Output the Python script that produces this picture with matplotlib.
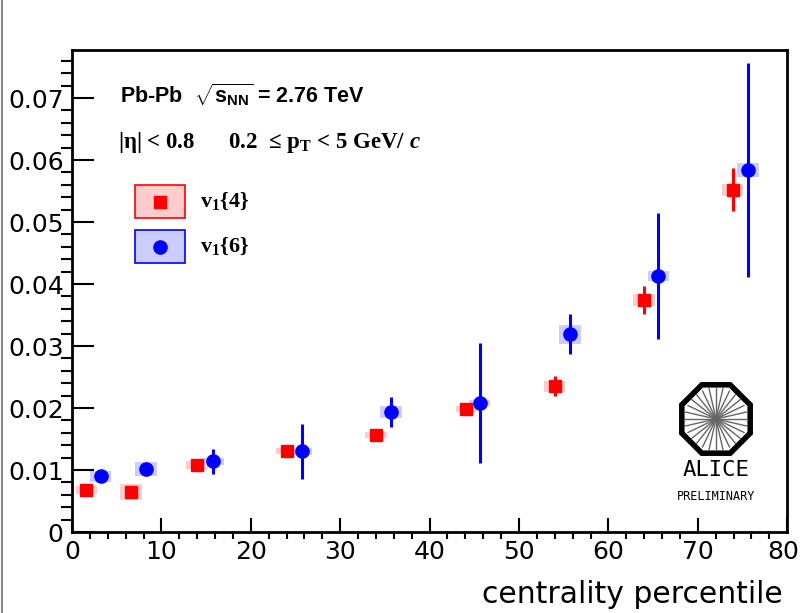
import matplotlib
matplotlib.use("Agg")
import matplotlib.pyplot as plt
import matplotlib.transforms as mtransforms
from matplotlib.patches import Rectangle, RegularPolygon
from matplotlib.lines import Line2D
import numpy as np

plt.rcParams['mathtext.fontset'] = 'custom'
plt.rcParams['mathtext.rm'] = 'Liberation Serif:bold'
plt.rcParams['mathtext.it'] = 'Liberation Serif:italic:bold'
plt.rcParams['mathtext.bf'] = 'Liberation Sans:bold'

# v{4}  (red squares)
red_x = [1.6, 6.6, 14.0, 24.0, 34.0, 44.1, 54.0, 64.0, 73.9]
red_y = [0.0068, 0.0065, 0.0108, 0.0131, 0.0156, 0.0198, 0.0235, 0.0374, 0.0552]
red_err = [0.0003, 0.0003, 0.0004, 0.0004, 0.0004, 0.0005, 0.0016, 0.0023, 0.0035]
red_sys = [0.0006, 0.0013, 0.0006, 0.0005, 0.0005, 0.0005, 0.0009, 0.0010, 0.0010]

# v{6}  (blue circles)
blue_x = [3.2, 8.3, 15.8, 25.7, 35.7, 45.6, 55.7, 65.6, 75.6]
blue_y = [0.0090, 0.0102, 0.0114, 0.0130, 0.0194, 0.0208, 0.0319, 0.0413, 0.0584]
blue_err = [0.0004, 0.0007, 0.0020, 0.0045, 0.0024, 0.0097, 0.0032, 0.0101, 0.0172]
blue_sys = [0.0009, 0.0011, 0.0006, 0.0005, 0.0010, 0.0005, 0.0015, 0.0008, 0.0011]

x_ticks = [0, 10, 20, 30, 40, 50, 60, 70, 80]
y_ticks = [0, 0.01, 0.02, 0.03, 0.04, 0.05, 0.06, 0.07]
y_tick_labels = ['0', '0.01', '0.02', '0.03', '0.04', '0.05', '0.06', '0.07']

RED = '#ff0000'
BLUE = '#0000ff'
RED_BOX = '#ffcccc'
BLUE_BOX = '#ccccff'

fig = plt.figure(figsize=(8, 6.13), dpi=100)
ax = fig.add_axes([0.09, 0.132, 0.894, 0.786])

# systematic boxes
ax.bar(red_x, 2 * np.array(red_sys), bottom=np.array(red_y) - np.array(red_sys),
       width=2.4, color=RED_BOX, linewidth=0, zorder=1)
ax.bar(blue_x, 2 * np.array(blue_sys), bottom=np.array(blue_y) - np.array(blue_sys),
       width=2.4, color=BLUE_BOX, linewidth=0, zorder=1)

# points with stat errors
ax.errorbar(red_x, red_y, yerr=red_err, fmt='s', color=RED, ms=8.5,
            elinewidth=2.2, capsize=0, zorder=3)
ax.errorbar(blue_x, blue_y, yerr=blue_err, fmt='o', color=BLUE, ms=9.5,
            elinewidth=2.2, capsize=0, zorder=4)

ax.set_xlim(0, 80)
ax.set_ylim(0, 0.0777)
ax.set_xticks(x_ticks)
ax.set_xticks(np.arange(0, 81, 2), minor=True)
ax.set_yticks(y_ticks)
ax.set_yticklabels(y_tick_labels)
ax.set_yticks(np.arange(0, 0.0777, 0.002), minor=True)

ax.tick_params(axis='both', direction='in', width=1.5, labelsize=18,
               top=False, right=False)
ax.tick_params(axis='x', which='major', length=10, pad=6)
ax.tick_params(axis='x', which='minor', length=5, width=1.5)
ax.tick_params(axis='y', which='major', length=16, pad=6)
ax.tick_params(axis='y', which='minor', length=8, width=1.5)
for s in ax.spines.values():
    s.set_linewidth(2)

ax.set_xlabel('centrality percentile', fontsize=21.5)
ax.xaxis.set_label_coords(0.994, -0.1)
ax.xaxis.label.set_horizontalalignment('right')

# text
ax.text(0.067, 0.907, r'Pb-Pb  $\sqrt{\mathbf{s}_{\mathbf{NN}}}$ = 2.76 TeV',
        transform=ax.transAxes, fontsize=15.5, fontweight='bold',
        family='Liberation Sans', va='center')
ax.text(0.065, 0.809, r'|η| < 0.8      0.2  ≤ p$_\mathrm{T}$ < 5 GeV/ $\mathit{c}$',
        transform=ax.transAxes, fontsize=16.5, fontweight='bold',
        family='Liberation Serif', va='center')

# legend
leg = [(RED_BOX, RED, 's', 8.5, 0.651, r'v$_\mathrm{1}${4}'),
       (BLUE_BOX, BLUE, 'o', 9.5, 0.558, r'v$_\mathrm{1}${6}')]
for face, col, mk, ms, y0, lab in leg:
    ax.add_patch(Rectangle((0.088, y0), 0.070, 0.069, transform=ax.transAxes,
                           facecolor=face, edgecolor=col, lw=1.2, zorder=5))
    ax.plot([0.123], [y0 + 0.0345], marker=mk, color=col, ms=ms,
            transform=ax.transAxes, zorder=6)
    ax.text(0.179, y0 + 0.0345, lab, transform=ax.transAxes, fontsize=16,
            fontweight='bold', family='Liberation Serif', va='center')

# ALICE logo
lg = fig.add_axes([670 / 800, 1 - 505 / 613, 92 / 800, 130 / 613])
lg.set_xlim(0, 92)
lg.set_ylim(0, 130)
lg.axis('off')
for a in np.linspace(0, np.pi, 15)[:-1]:
    lg.plot([46 - 31 * np.cos(a), 46 + 31 * np.cos(a)],
            [86 - 31 * np.sin(a), 86 + 31 * np.sin(a)], color='#666666', lw=1.0)
lg.add_patch(RegularPolygon((46, 86), numVertices=8, radius=37,
                            orientation=np.pi / 8, facecolor='none',
                            edgecolor='black', lw=4))
lg.text(46, 35, 'ALICE', ha='center', va='center', fontsize=16,
        family='DejaVu Sans Mono')
lg.text(46, 9, 'PRELIMINARY', ha='center', va='center', fontsize=8.5,
        family='DejaVu Sans Mono')

# frame line on the left of the canvas
fig.add_artist(Line2D([0.003, 0.003], [0, 1], color='#888888', lw=1.5,
                      transform=fig.transFigure))

# keep the last x label ("80") inside the canvas
fig.canvas.draw()
last = ax.xaxis.get_major_ticks()[-1].label1
last.set_transform(last.get_transform() +
                   mtransforms.ScaledTranslation(-4 / 100, 0, fig.dpi_scale_trans))

fig.savefig('out.png', dpi=100)
